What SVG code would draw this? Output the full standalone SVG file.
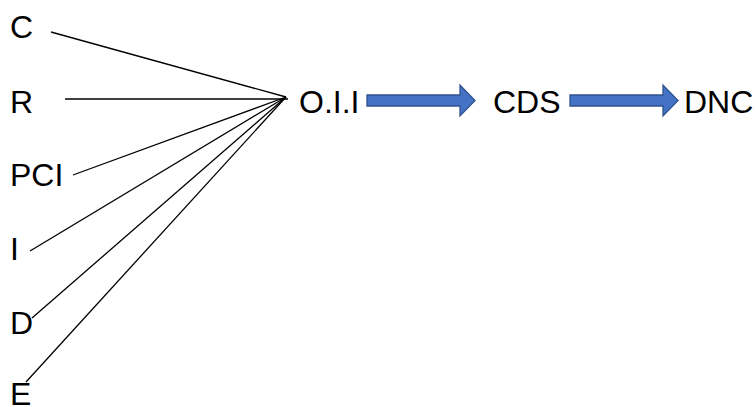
<svg xmlns="http://www.w3.org/2000/svg" width="756" height="407" viewBox="0 0 756 407">
  <style>
    .lbl { font-family: "Liberation Sans", Arial, sans-serif; font-size: 32px; fill: #000; }
    .conn { stroke: #000; stroke-width: 1.3; fill: none; }
    .block { fill: #4472C4; stroke: #2F528F; stroke-width: 1.3; }
  </style>
  <rect width="756" height="407" fill="#fff"/>

  <!-- inputs converging on O.I.I -->
  <g id="connectors">
    <line class="conn" x1="51" y1="32" x2="286" y2="97"/>
    <line class="conn" x1="65" y1="99" x2="288" y2="99"/>
    <line class="conn" x1="73" y1="175" x2="286" y2="97"/>
    <line class="conn" x1="30" y1="251" x2="286" y2="97"/>
    <line class="conn" x1="32" y1="318" x2="286" y2="97"/>
    <line class="conn" x1="26" y1="382" x2="286" y2="97"/>
    <!-- block arrows -->
    <polygon class="block" points="367,95 460,95 460,85 475,100.5 460,116 460,106 367,106"/>
    <polygon class="block" points="570,95 663,95 663,85 678,100.5 663,116 663,106 570,106"/>
  </g>

  <g id="node-C"><text class="lbl" x="10" y="38">C</text></g>
  <g id="node-R"><text class="lbl" x="10" y="113">R</text></g>
  <g id="node-PCI"><text class="lbl" x="10" y="186">PCI</text></g>
  <g id="node-I"><text class="lbl" x="10" y="260">I</text></g>
  <g id="node-D"><text class="lbl" x="10" y="334">D</text></g>
  <g id="node-E"><text class="lbl" x="10" y="405">E</text></g>
  <g id="node-OII"><text class="lbl" x="299" y="113">O.I.I</text></g>
  <g id="node-CDS"><text class="lbl" x="493" y="113">CDS</text></g>
  <g id="node-DNC"><text class="lbl" x="684" y="113">DNC</text></g>
</svg>
